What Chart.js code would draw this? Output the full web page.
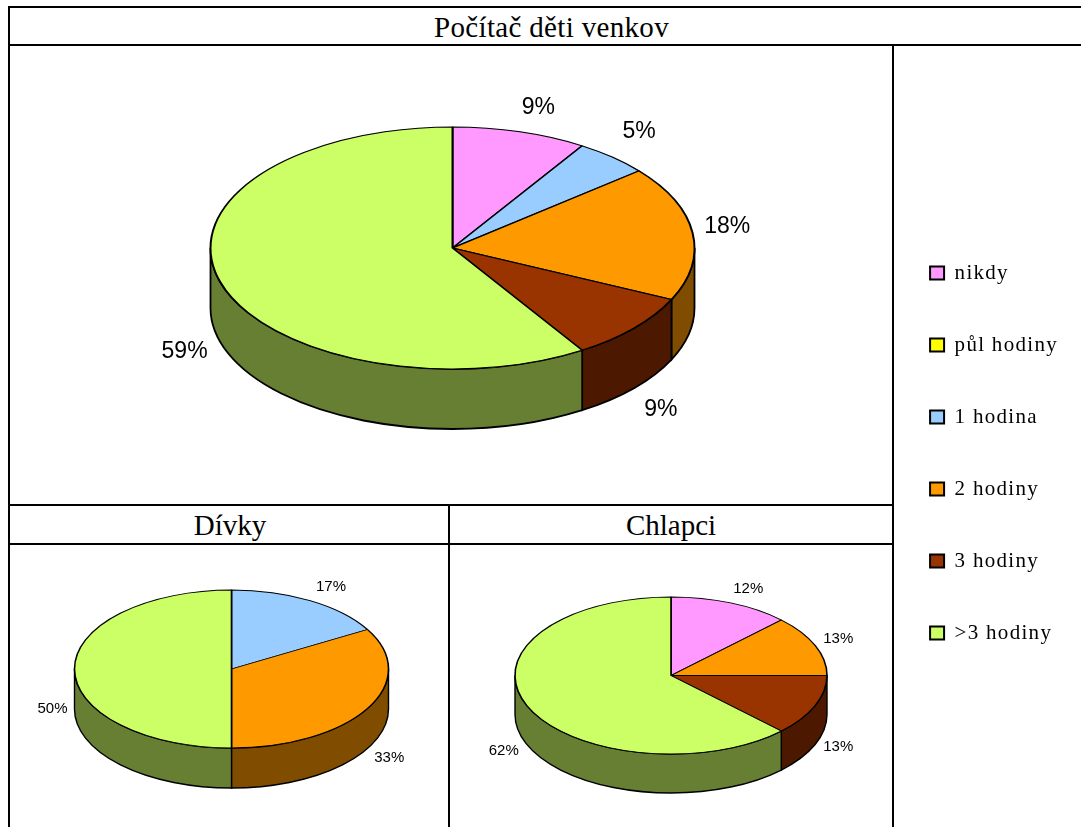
<!DOCTYPE html>
<html lang="cs">
<head>
<meta charset="utf-8">
<title>Počítač děti venkov</title>
<script src="https://cdn.jsdelivr.net/npm/chart.js@4"></script>
<style>
html,body{margin:0;padding:0;background:#fff;overflow:hidden}
#page{position:relative;width:1081px;height:827px;overflow:hidden}
.ln{position:absolute;background:#000}
.ttl{position:absolute;font-family:"Liberation Serif",serif;font-size:29px;line-height:37px;text-align:center;color:#000;white-space:nowrap}
canvas{position:absolute;left:0;top:0;pointer-events:none}
</style>
</head>
<body>
<div id="page">
  <div class="ln" style="left:8px;top:6px;width:1073px;height:2px"></div>
  <div class="ln" style="left:8px;top:44px;width:1073px;height:2px"></div>
  <div class="ln" style="left:8px;top:504px;width:885px;height:2px"></div>
  <div class="ln" style="left:8px;top:543px;width:885px;height:2px"></div>
  <div class="ln" style="left:8px;top:6px;width:2px;height:821px"></div>
  <div class="ln" style="left:892px;top:44px;width:2px;height:783px"></div>
  <div class="ln" style="left:448px;top:504px;width:2px;height:323px"></div>
  <div class="ttl" id="t0" style="left:10px;top:9px;width:1083px;letter-spacing:.33px"></div>
  <div class="ttl" id="t1" style="left:10px;top:507px;width:440px"></div>
  <div class="ttl" id="t2" style="left:450px;top:507px;width:442px"></div>
  <canvas id="c0" width="1081" height="827"></canvas>
  <canvas id="c1" width="1081" height="827"></canvas>
  <canvas id="c2" width="1081" height="827"></canvas>
</div>
<script>
const titles = ["Počítač děti venkov", "Dívky", "Chlapci"];
const categories = ["nikdy", "půl hodiny", "1 hodina", "2 hodiny", "3 hodiny", ">3 hodiny"];
const sliceColors = ["#FF99FF", "#FFFF00", "#99CCFF", "#FF9900", "#993300", "#CCFF66"];
const allValues = [9, 0, 5, 18, 9, 59];
const girlsValues = [0, 0, 16.67, 33.33, 0, 50];
const boysValues = [12.5, 0, 0, 12.5, 12.5, 62.5];
const allLabels = ["9%", "", "5%", "18%", "9%", "59%"];
const girlsLabels = ["", "", "17%", "33%", "", "50%"];
const boysLabels = ["12%", "", "", "13%", "13%", "62%"];

titles.forEach((t, i) => { document.getElementById("t" + i).textContent = t; });

function darker(hex) {
  const n = parseInt(hex.slice(1), 16);
  return "rgb(" + ((n >> 16) >> 1) + "," + (((n >> 8) & 255) >> 1) + "," + ((n & 255) >> 1) + ")";
}

const pie3d = {
  id: "pie3d",
  beforeLayout(chart) { chart.ctx.letterSpacing = "1.3px"; },
  beforeDatasetsDraw(chart, args, o) {
    const ctx = chart.ctx, arcs = chart.getDatasetMeta(0).data;
    const r = arcs[0].outerRadius, cols = chart.data.datasets[0].backgroundColor;
    ctx.save();
    ctx.lineWidth = o.lineWidth; ctx.strokeStyle = "#000";
    arcs.forEach((arc, i) => {
      const a = Math.max(arc.startAngle, 0), b = Math.min(arc.endAngle, Math.PI);
      if (b <= a) return;
      ctx.beginPath();
      ctx.ellipse(o.cx, o.cy, r, o.ry, 0, a, b);
      ctx.ellipse(o.cx, o.cy + o.depth, r, o.ry, 0, b, a, true);
      ctx.closePath();
      ctx.fillStyle = darker(cols[i]);
      ctx.fill(); ctx.stroke();
    });
    ctx.restore();
    const a0 = arcs[0];
    ctx.save();
    ctx.translate(o.cx, o.cy);
    ctx.scale(1, o.ry / r);
    ctx.translate(-a0.x, -a0.y);
  },
  afterDatasetsDraw(chart, args, o) {
    const ctx = chart.ctx, arcs = chart.getDatasetMeta(0).data;
    ctx.restore();
    const r = arcs[0].outerRadius;
    ctx.save();
    ctx.letterSpacing = "0px";
    ctx.fillStyle = "#000";
    ctx.font = o.fontSize + 'px "Liberation Sans", Arial, sans-serif';
    ctx.textAlign = "center"; ctx.textBaseline = "middle";
    o.texts.forEach((txt, i) => {
      if (!txt) return;
      const m = (arcs[i].startAngle + arcs[i].endAngle) / 2;
      const c = Math.cos(m), s = Math.sin(m);
      const nudge = o.nudges[i];
      const x = o.cx + (r + o.padX) * c + nudge[0];
      const y = o.cy + (o.ry + o.padY) * s + (s >= -1e-6 || c < 0 && s > -0.05 ? o.depth : 0) + nudge[1];
      ctx.fillText(txt, x, y);
    });
    ctx.restore();
  }
};

function make(id, values, radius, arcWidth, pieOpts, legendOpts, padding) {
  return new Chart(document.getElementById(id), {
    type: "pie",
    data: {
      labels: categories,
      datasets: [{ data: values, backgroundColor: sliceColors, borderColor: "#000", borderWidth: arcWidth, radius: radius }]
    },
    options: {
      responsive: false, animation: false, rotation: 0,
      layout: { padding: padding },
      events: [],
      plugins: { legend: legendOpts, tooltip: { enabled: false }, pie3d: pieOpts }
    },
    plugins: [pie3d]
  });
}

make("c0", allValues, 242, 2,
  { cx: 452.5, cy: 248, ry: 121, depth: 60, padX: 37, padY: 30, fontSize: 23, lineWidth: 1.8, texts: allLabels,
    nudges: [[8, 5], [0, 0], [2, -3], [-2, -2], [-1, 2], [0, 2]] },
  {
    display: true, position: "right",
    labels: {
      boxWidth: 14, boxHeight: 13, padding: 51, color: "#000",
      font: { family: '"Liberation Serif", serif', size: 21 }
    }
  },
  { top: 79, right: 13 });

make("c1", girlsValues, 157, 1.6,
  { cx: 231.5, cy: 669, ry: 79, depth: 40, padX: 24, padY: 17, fontSize: 15, lineWidth: 1.4, texts: girlsLabels,
    nudges: [[0, 0], [0, 0], [9, 1], [1, 1], [0, 0], [2, 0]] },
  { display: false }, 0);

make("c2", boysValues, 156, 1.6,
  { cx: 671, cy: 675.5, ry: 78.5, depth: 39, padX: 25, padY: 17, fontSize: 15, lineWidth: 1.4, texts: boysLabels,
    nudges: [[8, 2], [0, 0], [0, 0], [0, 0], [0, -4], [0, 0]] },
  { display: false }, 0);
</script>
</body>
</html>
